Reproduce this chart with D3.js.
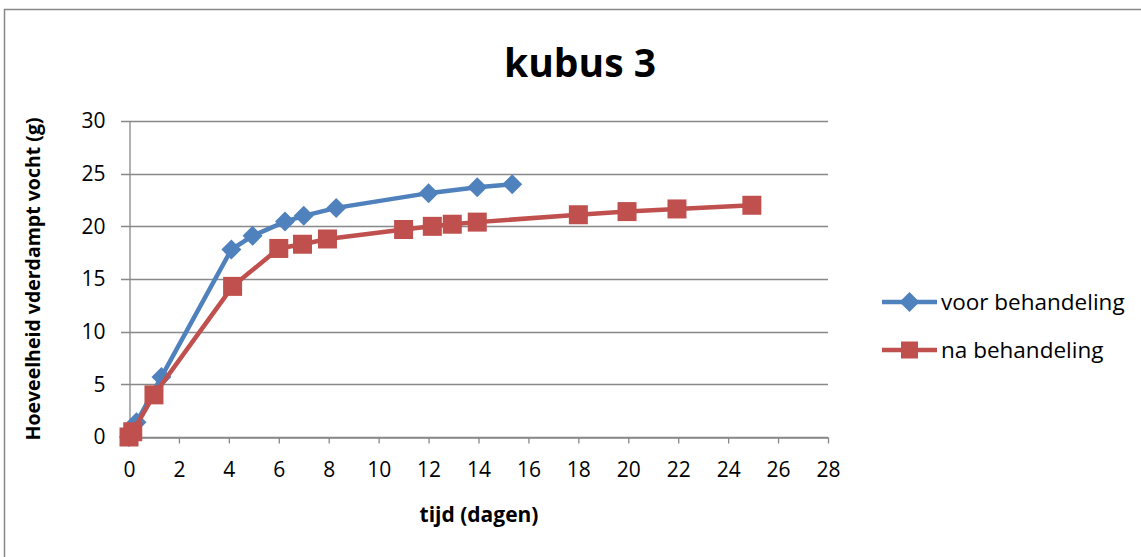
<!DOCTYPE html>
<html><head><meta charset="utf-8">
<script src="https://cdn.jsdelivr.net/npm/d3@7"></script>
<style>body{margin:0;background:#fff;} svg{display:block;}</style>
</head><body>
<svg id="c" width="1141" height="557"></svg>
<script>
const title = "kubus 3";
const xLabel = "tijd (dagen)";
const yLabel = "Hoeveelheid vderdampt vocht (g)";
const xTicks = [0,2,4,6,8,10,12,14,16,18,20,22,24,26,28];
const yTicks = [0,5,10,15,20,25,30];
const seriesNames = ["voor behandeling", "na behandeling"];
const voorX = [0, 0.3, 1.3, 4.1, 4.95, 6.25, 7.0, 8.3, 12.0, 13.95, 15.35];
const voorY = [0, 1.4, 5.7, 17.8, 19.1, 20.45, 21.0, 21.75, 23.15, 23.7, 24.0];
const naX = [0, 0.15, 1.0, 4.15, 6.0, 6.95, 7.95, 11.0, 12.15, 12.95, 13.95, 18.0, 19.95, 21.95, 24.95];
const naY = [0, 0.5, 4.0, 14.3, 17.9, 18.3, 18.8, 19.7, 20.0, 20.2, 20.4, 21.1, 21.4, 21.65, 22.0];

const svg = d3.select("#c");
const font = "'Open Sans', sans-serif";
const x = d3.scaleLinear().domain([0,28]).range([129,828]);
const y = d3.scaleLinear().domain([0,30]).range([437,121]);

// outer border
svg.append("rect").attr("x",4.5).attr("y",9.5).attr("width",1150).attr("height",560)
  .attr("fill","none").attr("stroke","#888").attr("stroke-width",1.5);

// grid
svg.append("g").selectAll("line").data(yTicks).join("line")
  .attr("x1",121).attr("x2",828).attr("y1",d=>Math.round(y(d))+0.5).attr("y2",d=>Math.round(y(d))+0.5)
  .attr("stroke","#888").attr("stroke-width",1.3);

// y axis
const ya = svg.append("g").attr("transform","translate(129.5,0)")
  .call(d3.axisLeft(y).tickValues(yTicks).tickSize(0).tickPadding(24));
ya.select(".domain").attr("stroke","#888").attr("stroke-width",1.3);
ya.selectAll("text").attr("font-family",font).attr("font-size",21).attr("fill","#000");

// x axis
const xa = svg.append("g").attr("transform","translate(0,437.5)")
  .call(d3.axisBottom(x).tickValues(xTicks).tickSize(6).tickPadding(19).tickSizeOuter(0));
xa.select(".domain").attr("stroke","#888").attr("stroke-width",1.3);
xa.selectAll(".tick line").attr("stroke","#888").attr("stroke-width",1.3);
xa.selectAll("text").attr("font-family",font).attr("font-size",21).attr("fill","#000");

// titles
svg.append("text").attr("x",580).attr("y",77).attr("text-anchor","middle")
  .attr("font-family",font).attr("font-weight","bold").attr("font-size",39).text(title);
svg.append("text").attr("x",479).attr("y",522).attr("text-anchor","middle")
  .attr("font-family",font).attr("font-weight","bold").attr("font-size",21).text(xLabel);
svg.append("text").attr("transform","translate(40,279) rotate(-90)").attr("text-anchor","middle")
  .attr("font-family",font).attr("font-weight","bold").attr("font-size",19.5).text(yLabel);

const colors = ["#4F81BD","#C0504D"];
const line = d3.line().x(d=>x(d[0])).y(d=>y(d[1]));
const voor = voorX.map((v,i)=>[v,voorY[i]]);
const na = naX.map((v,i)=>[v,naY[i]]);

function diamond(g, cx, cy, r, c){
  g.append("path").attr("d",`M${cx},${cy-r}L${cx+r},${cy}L${cx},${cy+r}L${cx-r},${cy}Z`).attr("fill",c);
}
function square(g, cx, cy, s, c){
  g.append("rect").attr("x",cx-s/2).attr("y",cy-s/2).attr("width",s).attr("height",s).attr("fill",c);
}

svg.append("path").datum(voor).attr("d",line).attr("fill","none").attr("stroke",colors[0]).attr("stroke-width",4.5);
const gv = svg.append("g");
voor.forEach(d=>diamond(gv, x(d[0]), y(d[1]), 10, colors[0]));

svg.append("path").datum(na).attr("d",line).attr("fill","none").attr("stroke",colors[1]).attr("stroke-width",4.5);
const gn = svg.append("g");
na.forEach(d=>square(gn, x(d[0]), y(d[1]), 19, colors[1]));

// legend
const lg = svg.append("g");
[0,1].forEach(i=>{
  const ly = 302 + i*48;
  lg.append("line").attr("x1",882).attr("x2",937).attr("y1",ly).attr("y2",ly).attr("stroke",colors[i]).attr("stroke-width",4.5);
  if(i===0) diamond(lg, 909.5, ly, 10, colors[0]); else square(lg, 909.5, ly, 17, colors[1]);
  lg.append("text").attr("x",941).attr("y",ly+8).attr("font-family",font).attr("font-size",22.5).attr("fill","#000").text(seriesNames[i]);
});
</script>
</body></html>
